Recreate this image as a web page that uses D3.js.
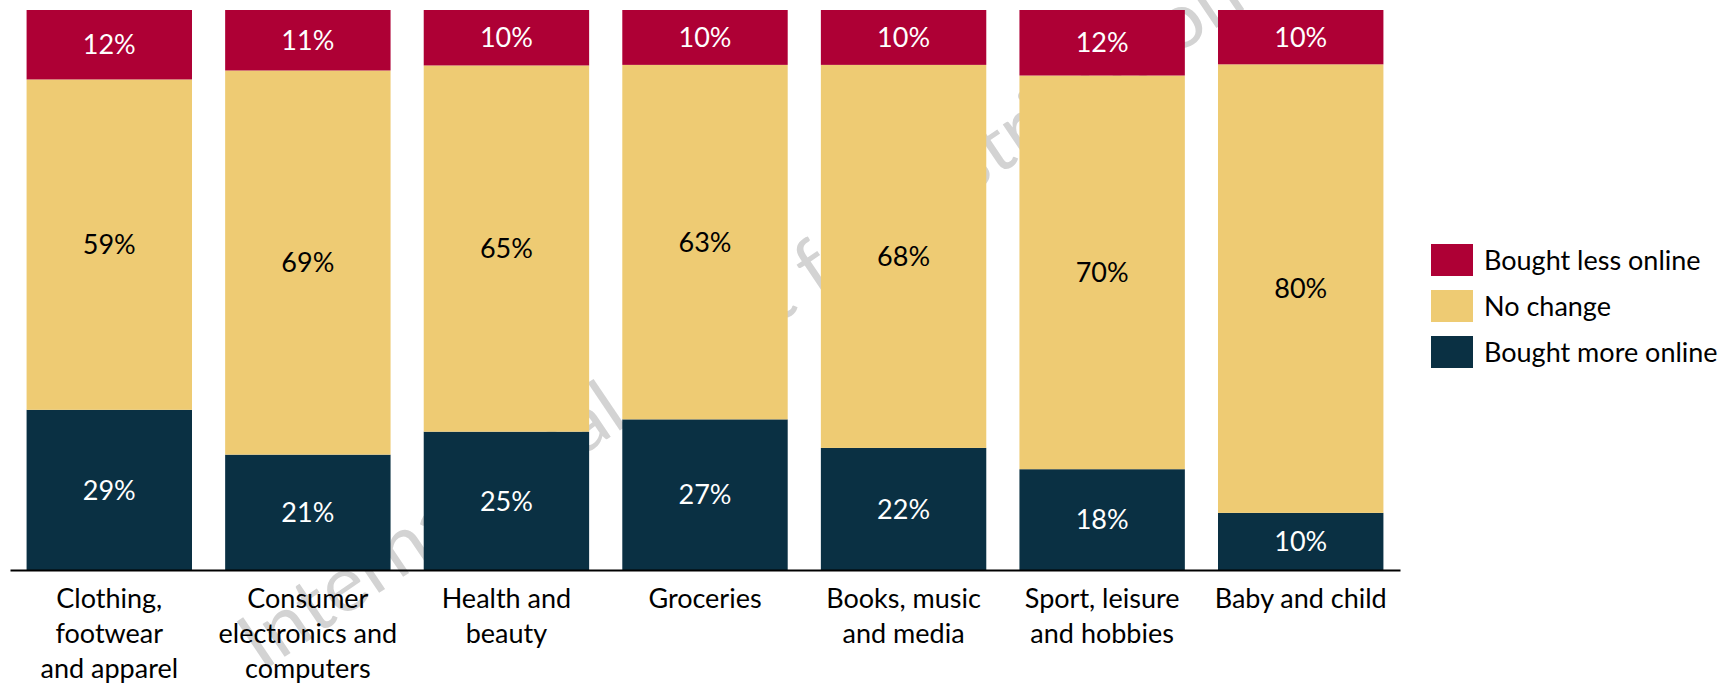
<!DOCTYPE html>
<html>
<head>
<meta charset="utf-8">
<script src="https://cdn.jsdelivr.net/npm/d3@7"></script>
<style>
body { margin: 0; background: #fff; }
text { font-family: Lato, "Open Sans", sans-serif; }
</style>
</head>
<body>
<div id="viz"></div>
<script>
var width = 1731;
var height = 684;

// categories, with the line breaks used under the axis
var categories = ["Clothing, footwear and apparel", "Consumer electronics and computers", "Health and beauty",
	"Groceries", "Books, music and media", "Sport, leisure and hobbies", "Baby and child"];
var categoryLines = [["Clothing,", "footwear", "and apparel"], ["Consumer", "electronics and", "computers"],
	["Health and", "beauty"], ["Groceries"], ["Books, music", "and media"], ["Sport, leisure", "and hobbies"], ["Baby and child"]];

// share of respondents, %
var boughtLess = [12.4, 10.8, 9.9, 9.8, 9.8, 11.7, 9.7];
var noChange = [59.0, 68.6, 65.4, 63.3, 68.4, 70.3, 80.1];
var boughtMore = [28.6, 20.6, 24.7, 26.9, 21.8, 18.0, 10.2];

var seriesKeys = ["more", "same", "less"];
var seriesNames = {less: "Bought less online", same: "No change", more: "Bought more online"};
var colors = {less: "#ae0035", same: "#eecb73", more: "#0a3043"};
var labelColors = {less: "#fff", same: "#000", more: "#fff"};

var rows = categories.map(function(c, i) {
	return {cat: c, less: boughtLess[i], same: noChange[i], more: boughtMore[i]};
});

var canvas = d3.select("#viz")
	.append("svg")
	.attr("width", width)
	.attr("height", height);

var x = d3.scaleBand()
	.domain(categories)
	.range([10, 1400])
	.paddingInner(0.167)
	.paddingOuter(0.0835);

var y = d3.scaleLinear()
	.domain([0, 100])
	.range([570, 10]);

// faint watermark, sits behind the bars
canvas.append("text")
	.attr("transform", "translate(262,672) rotate(-34)")
	.attr("text-anchor", "start")
	.attr("font-size", 78)
	.attr("textLength", 1190)
	.attr("lengthAdjust", "spacingAndGlyphs")
	.attr("fill", "#d3d3d3")
	.text("International – not for distribution");

var stacked = d3.stack().keys(seriesKeys)(rows);

var layers = canvas.append("g")
	.selectAll("g")
	.data(stacked)
	.enter()
		.append("g")
		.attr("fill", function(d) { return colors[d.key]; });

layers.selectAll("rect")
	.data(function(d) { return d; })
	.enter()
		.append("rect")
		.attr("x", function(d) { return x(d.data.cat); })
		.attr("width", x.bandwidth())
		.attr("y", function(d) { return y(d[1]); })
		.attr("height", function(d) { return y(d[0]) - y(d[1]); });

layers.selectAll("text")
	.data(function(d) { return d.map(function(p) { p.key = d.key; return p; }); })
	.enter()
		.append("text")
		.attr("x", function(d) { return x(d.data.cat) + x.bandwidth() / 2; })
		.attr("y", function(d) { return (y(d[0]) + y(d[1])) / 2; })
		.attr("dy", "0.36em")
		.attr("text-anchor", "middle")
		.attr("font-size", 27)
		.attr("fill", function(d) { return labelColors[d.key]; })
		.text(function(d) { return Math.round(d[1] - d[0]) + "%"; });

var xAxis = d3.axisBottom(x)
	.tickSize(0)
	.tickSizeOuter(0)
	.tickPadding(0);

var axisG = canvas.append("g")
	.attr("transform", "translate(0,570)")
	.call(xAxis);

axisG.select(".domain")
	.attr("stroke", "#000")
	.attr("stroke-width", 2.2);

axisG.selectAll(".tick text").remove();
axisG.selectAll(".tick")
	.append("text")
	.attr("fill", "#000")
	.attr("font-size", 27)
	.attr("text-anchor", "middle")
	.each(function(d, i) {
		var t = d3.select(this);
		categoryLines[i].forEach(function(line, k) {
			t.append("tspan")
				.attr("x", 0)
				.attr("y", 38 + k * 35)
				.text(line);
		});
	});

// legend
var legendKeys = ["less", "same", "more"];
var legend = canvas.append("g")
	.selectAll("g")
	.data(legendKeys)
	.enter()
		.append("g")
		.attr("transform", function(d, i) { return "translate(1431," + (244 + i * 46) + ")"; });

legend.append("rect")
	.attr("width", 42)
	.attr("height", 32)
	.attr("fill", function(d) { return colors[d]; });

legend.append("text")
	.attr("x", 53)
	.attr("y", 16)
	.attr("dy", "0.36em")
	.attr("font-size", 27)
	.attr("fill", "#000")
	.text(function(d) { return seriesNames[d]; });
</script>
</body>
</html>
